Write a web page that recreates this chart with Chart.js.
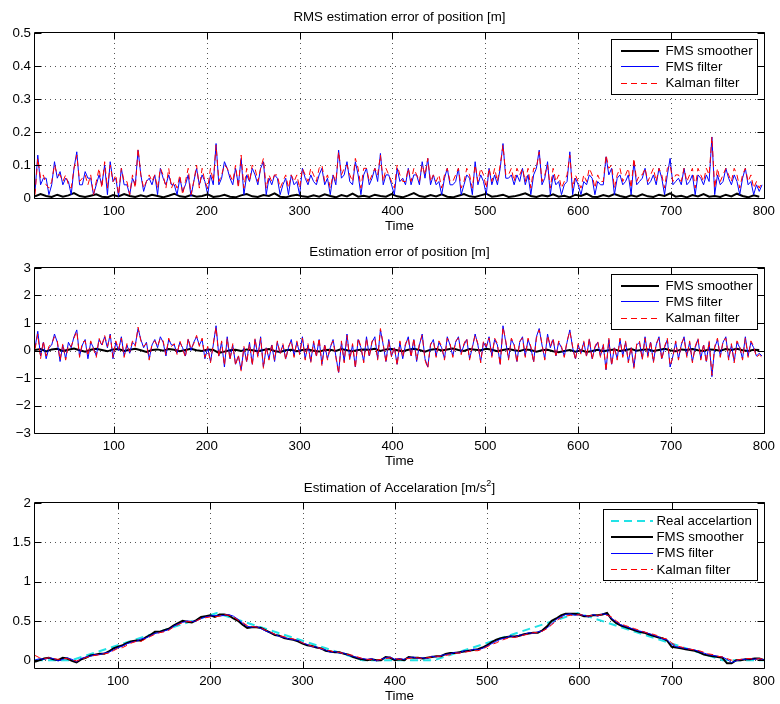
<!DOCTYPE html>
<html>
<head>
<meta charset="utf-8">
<script src="https://cdn.jsdelivr.net/npm/chart.js@4.4.1/dist/chart.umd.min.js"></script>
<style>
  body { margin: 0; background: #fff; width: 780px; height: 704px; overflow: hidden; position: relative; }
  canvas { position: absolute; left: 0; }
</style>
</head>
<body>
<canvas id="cRms" width="780" height="234" style="top:0px"></canvas>
<canvas id="cErr" width="780" height="235" style="top:234px"></canvas>
<canvas id="cAcc" width="780" height="235" style="top:469px"></canvas>
<script>
// sample grids (time of first sample, spacing)
var t0Pos = 15, dtPos = 3;
var t0Smo = 15, dtSmo = 6;
var t0Acc = 10, dtAcc = 5;

var xTicks = [100, 200, 300, 400, 500, 600, 700, 800];
var rmsTicks = [0, 0.1, 0.2, 0.3, 0.4, 0.5];
var errTicks = [-3, -2, -1, 0, 1, 2, 3];
var accTicks = [0, 0.5, 1, 1.5, 2];

// RMS estimation error of position
var rmsSmoother = [
  0.005,0.012,0.006,0.003,0.010,0.004,0.008,0.015,0.006,0.003,
  0.007,0.011,0.004,0.002,0.009,0.005,0.012,0.006,0.003,0.008,
  0.004,0.010,0.006,0.002,0.007,0.013,0.005,0.003,0.009,0.004,
  0.006,0.011,0.003,0.005,0.010,0.004,0.002,0.008,0.012,0.005,
  0.003,0.009,0.006,0.014,0.004,0.002,0.007,0.010,0.005,0.003,
  0.008,0.004,0.011,0.006,0.002,0.009,0.005,0.013,0.004,0.007,
  0.003,0.010,0.006,0.004,0.012,0.005,0.002,0.008,0.015,0.006,
  0.003,0.009,0.005,0.011,0.004,0.002,0.007,0.012,0.005,0.003,
  0.008,0.013,0.004,0.006,0.010,0.003,0.005,0.009,0.014,0.006,
  0.003,0.008,0.005,0.011,0.004,0.007,0.002,0.010,0.006,0.013,
  0.004,0.003,0.009,0.005,0.012,0.006,0.002,0.008,0.004,0.011,
  0.005,0.003,0.010,0.006,0.014,0.004,0.007,0.002,0.009,0.005,
  0.012,0.004,0.006,0.003,0.010,0.005,0.013,0.006,0.002,0.008,
  0.004
];
var rmsFilter = [
  0.02,0.13,0.04,0.06,0.06,0.01,0.04,0.11,0.06,0.08,
  0.04,0.06,0.05,0.01,0.09,0.14,0.04,0.04,0.08,0.06,
  0.06,0.01,0.04,0.07,0.04,0.10,0.01,0.11,0.05,0.06,
  0.005,0.09,0.04,0.04,0.01,0.06,0.04,0.145,0.07,0.02,
  0.05,0.06,0.04,0.07,0.01,0.09,0.06,0.04,0.07,0.04,
  0.04,0.01,0.06,0.02,0.04,0.07,0.005,0.05,0.09,0.04,
  0.07,0.05,0.01,0.07,0.04,0.165,0.04,0.06,0.11,0.09,
  0.06,0.04,0.09,0.04,0.12,0.01,0.07,0.05,0.09,0.07,
  0.04,0.09,0.11,0.01,0.06,0.04,0.07,0.06,0.01,0.04,
  0.06,0.01,0.07,0.04,0.05,0.01,0.09,0.06,0.04,0.07,
  0.05,0.04,0.07,0.09,0.04,0.06,0.01,0.07,0.04,0.145,
  0.06,0.07,0.11,0.05,0.04,0.11,0.07,0.01,0.07,0.09,
  0.04,0.06,0.09,0.05,0.135,0.04,0.07,0.07,0.04,0.01,
  0.09,0.05,0.06,0.04,0.09,0.04,0.07,0.07,0.04,0.11,
  0.06,0.12,0.04,0.07,0.04,0.05,0.01,0.06,0.09,0.04,
  0.04,0.05,0.09,0.01,0.04,0.07,0.06,0.01,0.11,0.04,
  0.07,0.05,0.01,0.09,0.04,0.07,0.04,0.09,0.165,0.06,
  0.06,0.07,0.04,0.07,0.05,0.09,0.04,0.07,0.01,0.07,
  0.09,0.145,0.04,0.06,0.11,0.01,0.07,0.04,0.05,0.01,
  0.04,0.05,0.14,0.01,0.06,0.04,0.01,0.05,0.04,0.07,
  0.06,0.01,0.05,0.04,0.04,0.125,0.07,0.09,0.01,0.06,
  0.07,0.04,0.05,0.07,0.01,0.11,0.04,0.05,0.06,0.09,
  0.04,0.05,0.07,0.04,0.09,0.06,0.01,0.07,0.12,0.04,
  0.05,0.06,0.04,0.09,0.04,0.05,0.07,0.01,0.07,0.06,
  0.04,0.07,0.05,0.185,0.01,0.07,0.04,0.05,0.09,0.06,
  0.04,0.07,0.05,0.01,0.06,0.09,0.04,0.05,0.01,0.04,
  0.02,0.04
];
var rmsKalman = [
  0.01,0.12,0.06,0.07,0.04,0.03,0.05,0.10,0.07,0.07,
  0.05,0.07,0.04,0.03,0.09,0.13,0.05,0.06,0.07,0.04,
  0.07,0.01,0.05,0.09,0.03,0.11,0.03,0.10,0.05,0.07,
  0.01,0.09,0.05,0.05,0.01,0.07,0.03,0.15,0.07,0.03,
  0.05,0.07,0.05,0.07,0.03,0.09,0.07,0.03,0.09,0.03,
  0.05,0.03,0.07,0.01,0.05,0.09,0.01,0.05,0.10,0.03,
  0.09,0.05,0.03,0.09,0.05,0.16,0.05,0.07,0.10,0.09,
  0.07,0.05,0.10,0.03,0.13,0.03,0.09,0.05,0.10,0.09,
  0.05,0.09,0.12,0.03,0.07,0.05,0.07,0.07,0.03,0.05,
  0.07,0.03,0.07,0.05,0.07,0.03,0.09,0.07,0.05,0.09,
  0.07,0.05,0.09,0.10,0.05,0.07,0.03,0.07,0.05,0.14,
  0.07,0.09,0.10,0.07,0.05,0.12,0.09,0.03,0.09,0.09,
  0.05,0.07,0.09,0.07,0.13,0.05,0.09,0.07,0.05,0.03,
  0.10,0.07,0.05,0.05,0.09,0.05,0.09,0.07,0.05,0.10,
  0.07,0.12,0.05,0.07,0.05,0.07,0.03,0.07,0.09,0.05,
  0.05,0.07,0.09,0.03,0.05,0.09,0.07,0.03,0.10,0.05,
  0.09,0.07,0.03,0.09,0.05,0.09,0.05,0.10,0.16,0.07,
  0.07,0.09,0.05,0.09,0.07,0.09,0.05,0.09,0.03,0.09,
  0.09,0.14,0.05,0.07,0.10,0.03,0.09,0.05,0.07,0.03,
  0.05,0.07,0.13,0.03,0.07,0.05,0.03,0.07,0.05,0.09,
  0.07,0.03,0.07,0.05,0.05,0.13,0.09,0.10,0.03,0.07,
  0.09,0.05,0.07,0.09,0.03,0.12,0.05,0.07,0.07,0.09,
  0.05,0.07,0.09,0.05,0.09,0.07,0.03,0.09,0.10,0.05,
  0.07,0.07,0.05,0.09,0.05,0.07,0.09,0.03,0.09,0.07,
  0.05,0.09,0.07,0.185,0.03,0.09,0.05,0.07,0.09,0.07,
  0.05,0.09,0.07,0.03,0.07,0.09,0.05,0.07,0.03,0.05,
  0.03,0.05
];

// Estimation error of position
var errSmoother = [
  0.02,0.05,-0.03,0.04,0.06,-0.02,0.03,0.07,0.01,-0.04,
  0.03,0.06,0.02,-0.03,0.04,0.05,-0.02,0.03,0.06,0.01,
  -0.05,0.02,0.04,-0.01,0.05,0.03,-0.03,0.02,0.06,0.01,
  -0.02,0.04,0.02,-0.09,-0.04,0.01,0.03,-0.02,0.04,0.01,
  -0.03,0.02,0.05,-0.02,-0.05,0.01,0.03,-0.03,0.02,0.04,
  -0.01,-0.04,0.02,0.03,-0.02,0.05,0.01,-0.03,0.02,0.04,
  0.03,0.06,-0.02,0.04,0.05,0.01,-0.03,0.03,0.06,0.02,
  -0.04,0.03,0.05,0.00,0.04,0.07,0.02,-0.02,0.05,0.03,
  0.01,0.06,0.03,-0.03,0.02,0.05,0.01,-0.02,0.04,0.02,
  -0.04,0.01,0.03,-0.03,-0.06,-0.02,0.02,-0.04,0.01,-0.05,
  -0.02,0.03,-0.03,0.01,0.04,-0.02,0.02,0.05,-0.01,0.03,
  0.04,-0.02,0.02,0.06,0.01,-0.03,0.04,0.02,0.05,0.01,
  -0.02,0.04,0.03,-0.01,0.05,0.02,0.06,0.01,-0.02,0.03,
  0.02
];
var errFilter = [
  0.1,0.7,-0.2,0.3,-0.3,0.1,0.2,0.6,0.3,-0.4,
  0.2,-0.3,0.3,0.1,0.5,0.75,-0.2,0.2,0.4,-0.3,
  0.3,0.1,-0.2,0.4,0.2,0.5,0.1,0.6,-0.3,0.3,
  0.0,0.5,-0.2,0.2,-0.1,0.3,0.2,0.8,0.4,0.1,
  0.3,-0.3,0.2,0.4,0.1,0.5,0.3,-0.2,0.4,0.2,
  0.2,-0.1,0.3,0.1,-0.2,0.4,0.0,0.3,0.5,0.2,
  0.4,-0.3,0.1,-0.4,0.2,0.9,-0.2,0.3,-0.6,0.5,
  -0.3,0.2,-0.5,-0.2,-0.7,0.1,-0.4,0.3,-0.5,0.4,
  -0.2,0.5,-0.6,0.1,-0.3,0.2,-0.4,0.3,-0.1,0.2,
  -0.3,0.1,0.4,-0.2,0.3,-0.1,0.5,-0.3,0.2,-0.4,
  0.3,-0.2,0.4,-0.5,0.2,-0.3,0.1,0.4,-0.2,-0.8,
  0.3,-0.4,0.6,-0.3,0.2,-0.6,0.4,0.1,-0.4,0.5,
  -0.2,0.3,0.5,-0.3,0.75,0.2,-0.4,0.4,-0.2,0.1,
  -0.5,0.3,-0.3,0.2,0.5,-0.2,0.4,-0.4,0.2,0.6,
  -0.3,-0.6,0.2,0.4,-0.2,0.3,0.1,-0.3,0.5,0.2,
  -0.2,0.3,0.5,-0.1,0.2,0.4,-0.3,0.1,0.6,0.2,
  -0.4,0.3,0.1,0.5,-0.2,0.4,0.2,-0.5,0.9,0.3,
  -0.3,0.4,0.2,-0.4,0.3,0.5,-0.2,0.4,0.1,-0.4,
  0.5,0.8,0.2,-0.3,0.6,0.1,0.4,-0.2,0.3,0.1,
  -0.2,0.3,0.75,0.1,-0.3,0.2,-0.1,0.3,-0.2,0.4,
  -0.3,0.1,0.3,-0.2,0.2,-0.7,0.4,-0.5,0.1,-0.3,
  0.4,-0.2,0.3,-0.4,0.1,-0.6,0.2,0.3,-0.3,0.5,
  -0.2,0.3,-0.4,0.2,0.5,-0.3,0.1,0.4,-0.6,-0.2,
  0.3,-0.3,0.2,0.5,-0.2,0.3,-0.4,0.1,0.4,-0.3,
  0.2,-0.4,0.3,-0.95,0.1,0.4,-0.2,0.3,0.5,-0.3,
  0.2,-0.4,0.3,0.1,-0.3,0.5,-0.2,0.3,0.1,-0.2,
  -0.1,-0.2
];
var errKalman = [
  0.05,0.6,-0.3,0.35,-0.2,0.15,0.25,0.5,0.35,-0.35,
  0.25,-0.35,0.2,0.15,0.45,0.7,-0.25,0.3,0.35,-0.2,
  0.35,0.05,-0.25,0.45,0.15,0.55,0.15,0.55,-0.25,0.35,
  0.05,0.45,-0.25,0.25,-0.05,0.35,0.15,0.85,0.35,0.15,
  0.25,-0.35,0.25,0.35,0.15,0.45,0.35,-0.15,0.45,0.15,
  0.25,-0.15,0.35,0.05,-0.25,0.45,0.05,0.25,0.55,0.15,
  0.45,-0.25,0.15,-0.45,0.25,0.85,-0.25,0.35,-0.55,0.45,
  -0.35,0.25,-0.55,-0.15,-0.75,0.15,-0.45,0.25,-0.55,0.45,
  -0.25,0.45,-0.65,0.15,-0.35,0.25,-0.35,0.35,-0.15,0.25,
  -0.35,0.15,0.35,-0.25,0.35,-0.15,0.45,-0.35,0.25,-0.45,
  0.35,-0.25,0.45,-0.55,0.25,-0.35,0.15,0.35,-0.25,-0.85,
  0.35,-0.45,0.55,-0.35,0.25,-0.65,0.45,0.15,-0.45,0.45,
  -0.25,0.35,0.45,-0.35,0.8,0.25,-0.45,0.35,-0.25,0.15,
  -0.55,0.35,-0.25,0.25,0.45,-0.25,0.45,-0.35,0.25,0.55,
  -0.35,-0.65,0.25,0.35,-0.25,0.35,0.15,-0.35,0.45,0.25,
  -0.25,0.35,0.45,-0.15,0.25,0.45,-0.35,0.15,0.55,0.25,
  -0.45,0.35,0.15,0.45,-0.25,0.45,0.25,-0.55,0.85,0.35,
  -0.35,0.45,0.25,-0.45,0.35,0.45,-0.25,0.45,0.15,-0.45,
  0.45,0.75,0.25,-0.35,0.55,0.15,0.45,-0.25,0.35,0.15,
  -0.25,0.35,0.7,0.15,-0.35,0.25,-0.15,0.35,-0.25,0.45,
  -0.35,0.15,0.35,-0.25,0.25,-0.75,0.45,-0.55,0.15,-0.35,
  0.45,-0.25,0.35,-0.45,0.15,-0.65,0.25,0.35,-0.35,0.45,
  -0.25,0.35,-0.45,0.25,0.45,-0.35,0.15,0.45,-0.55,-0.25,
  0.35,-0.35,0.25,0.45,-0.25,0.35,-0.45,0.15,0.45,-0.35,
  0.25,-0.45,0.35,-0.9,0.15,0.45,-0.25,0.35,0.45,-0.35,
  0.25,-0.45,0.35,0.15,-0.35,0.45,-0.25,0.35,0.15,-0.25,
  -0.15,-0.25
];

// Estimation of acceleration
var accRealT = [10, 50, 207, 365, 443, 598, 755, 800];
var accReal = [0, 0, 0.6, 0, 0, 0.6, 0, 0];
var accSmoother = [
  -0.02,0.00,0.02,0.03,0.01,0.00,0.03,0.02,-0.01,-0.03,
  0.01,0.03,0.06,0.07,0.08,0.08,0.11,0.15,0.17,0.19,
  0.22,0.24,0.25,0.25,0.29,0.32,0.36,0.36,0.38,0.40,
  0.44,0.47,0.50,0.49,0.48,0.51,0.55,0.56,0.57,0.55,
  0.58,0.58,0.57,0.53,0.50,0.45,0.41,0.42,0.42,0.41,
  0.38,0.35,0.32,0.31,0.28,0.27,0.26,0.24,0.21,0.19,
  0.18,0.16,0.15,0.12,0.11,0.10,0.10,0.08,0.07,0.04,
  0.02,0.01,0.00,0.01,0.00,0.00,0.04,0.03,0.00,0.01,
  0.00,0.04,0.03,0.03,0.02,0.03,0.04,0.05,0.05,0.08,
  0.09,0.09,0.10,0.11,0.12,0.13,0.14,0.16,0.19,0.23,
  0.26,0.28,0.29,0.30,0.30,0.31,0.33,0.34,0.35,0.35,
  0.38,0.43,0.50,0.53,0.57,0.59,0.59,0.59,0.58,0.56,
  0.56,0.57,0.57,0.58,0.60,0.52,0.47,0.44,0.42,0.40,
  0.38,0.36,0.35,0.33,0.31,0.29,0.28,0.25,0.17,0.16,
  0.15,0.14,0.13,0.12,0.10,0.07,0.06,0.05,0.04,0.03,
  -0.04,-0.04,0.00,0.00,0.01,0.01,0.02,0.02,0.00
];
var accFilter = [
  0.00,0.02,0.01,0.03,0.02,-0.01,0.01,0.03,0.01,-0.02,
  0.02,0.04,0.05,0.07,0.07,0.09,0.10,0.13,0.16,0.18,
  0.21,0.23,0.24,0.27,0.28,0.31,0.34,0.35,0.37,0.39,
  0.43,0.46,0.48,0.50,0.49,0.50,0.53,0.55,0.56,0.57,
  0.56,0.57,0.58,0.56,0.52,0.47,0.43,0.42,0.43,0.40,
  0.37,0.35,0.33,0.30,0.29,0.27,0.26,0.25,0.22,0.20,
  0.17,0.17,0.14,0.13,0.10,0.11,0.09,0.09,0.06,0.05,
  0.03,0.02,0.01,0.02,-0.01,0.01,0.03,0.04,0.01,0.02,
  0.01,0.03,0.04,0.02,0.03,0.02,0.05,0.04,0.06,0.07,
  0.08,0.10,0.09,0.12,0.11,0.14,0.13,0.15,0.18,0.21,
  0.24,0.27,0.28,0.31,0.29,0.32,0.32,0.35,0.34,0.36,
  0.37,0.41,0.46,0.52,0.55,0.58,0.59,0.57,0.58,0.57,
  0.55,0.58,0.56,0.59,0.58,0.53,0.49,0.45,0.43,0.41,
  0.39,0.37,0.36,0.34,0.32,0.30,0.27,0.26,0.20,0.17,
  0.16,0.15,0.14,0.13,0.11,0.09,0.07,0.06,0.05,0.04,
  0.01,-0.03,-0.01,0.01,0.01,0.02,0.01,0.02,0.00
];
var accKalman = [
  0.06,0.03,0.02,0.03,0.02,0.01,0.02,0.02,0.00,-0.01,
  0.01,0.03,0.05,0.06,0.07,0.08,0.09,0.12,0.15,0.16,
  0.19,0.22,0.24,0.24,0.27,0.30,0.33,0.35,0.36,0.38,
  0.42,0.45,0.48,0.49,0.49,0.50,0.53,0.54,0.55,0.55,
  0.56,0.58,0.57,0.55,0.51,0.48,0.44,0.43,0.42,0.41,
  0.38,0.36,0.33,0.31,0.30,0.28,0.27,0.25,0.22,0.20,
  0.18,0.16,0.15,0.13,0.12,0.10,0.10,0.08,0.07,0.06,
  0.04,0.02,0.01,0.01,0.00,0.01,0.02,0.03,0.02,0.01,
  0.02,0.02,0.03,0.03,0.02,0.03,0.04,0.05,0.05,0.06,
  0.07,0.09,0.09,0.10,0.11,0.12,0.12,0.14,0.17,0.20,
  0.22,0.25,0.27,0.29,0.29,0.30,0.32,0.33,0.35,0.35,
  0.37,0.40,0.45,0.50,0.54,0.56,0.57,0.57,0.58,0.57,
  0.56,0.57,0.57,0.58,0.57,0.55,0.50,0.46,0.44,0.42,
  0.40,0.38,0.36,0.34,0.33,0.31,0.28,0.27,0.22,0.18,
  0.17,0.15,0.14,0.13,0.12,0.10,0.08,0.07,0.05,0.04,
  0.02,0.00,0.00,0.01,0.02,0.02,0.01,0.02,0.01
];

var fontFam = '"Liberation Sans", Arial, Helvetica, sans-serif';
var fontPx = 13.3;
Chart.defaults.font.family = fontFam;
Chart.defaults.font.size = fontPx;
Chart.defaults.color = '#000';

// line styles, shared by the plotted lines and the legends
var stReal = { label: 'Real accelartion', color: 'rgb(34,226,230)', width: 2, dash: [8, 5] };
var stSmoother = { label: 'FMS smoother', color: 'rgb(0,0,0)', width: 2, dash: [] };
var stFilter = { label: 'FMS filter', color: 'rgb(0,0,255)', width: 1, dash: [] };
var stKalman = { label: 'Kalman filter', color: 'rgb(255,0,0)', width: 1, dash: [6, 4] };

var legendItems = {
  cRms: [stSmoother, stFilter, stKalman],
  cErr: [stSmoother, stFilter, stKalman],
  cAcc: [stReal, stSmoother, stFilter, stKalman]
};

function pts(vals, t0, dt) {
  return vals.map(function (v, i) { return { x: t0 + i * dt, y: v }; });
}
function ptsXY(xs, ys) {
  return ys.map(function (v, i) { return { x: xs[i], y: v }; });
}
function ln(st, data, order) {
  return {
    label: st.label, data: data, borderColor: st.color, borderWidth: st.width,
    borderDash: st.dash.slice(), pointRadius: 0, fill: false, tension: 0, order: order
  };
}

// legend sample drawn as filled segments (solid or dashed)
function legendSample(ctx, st, x0, x1, yc) {
  var top = Math.round(yc - st.width / 2);
  ctx.fillStyle = st.color;
  if (!st.dash.length) {
    ctx.fillRect(x0, top, x1 - x0, st.width);
    return;
  }
  var on = st.dash[0], off = st.dash[1], x = x0;
  while (x < x1) {
    ctx.fillRect(x, top, Math.min(on, x1 - x), st.width);
    x += on + off;
  }
}

// matlab style: dotted grid, black box with inward ticks, title and legend inside the axes
var matlabLook = {
  id: 'matlabLook',
  beforeDatasetsDraw: function (chart, args, o) {
    var a = chart.chartArea, ctx = chart.ctx, sx = chart.scales.x, sy = chart.scales.y;
    ctx.save();
    ctx.strokeStyle = '#555';
    ctx.lineWidth = 1;
    ctx.setLineDash([1, 4]);
    ctx.beginPath();
    xTicks.forEach(function (v) {
      var p = Math.round(sx.getPixelForValue(v)) + 0.5;
      if (p < a.right - 2) { ctx.moveTo(p, a.top); ctx.lineTo(p, a.bottom); }
    });
    o.yTicks.forEach(function (v) {
      var p = Math.round(sy.getPixelForValue(v)) + 0.5;
      if (p > a.top + 2 && p < a.bottom - 2) { ctx.moveTo(a.left, p); ctx.lineTo(a.right, p); }
    });
    ctx.stroke();
    ctx.restore();
  },
  afterDatasetsDraw: function (chart, args, o) {
    var a = chart.chartArea, ctx = chart.ctx, sx = chart.scales.x, sy = chart.scales.y;
    var L = Math.round(a.left) - 0.5, R = Math.round(a.right) + 0.5;
    var T = Math.round(a.top) - 0.5, B = Math.round(a.bottom) + 0.5;
    ctx.save();
    ctx.strokeStyle = '#000';
    ctx.lineWidth = 1;
    ctx.setLineDash([]);
    ctx.beginPath();
    ctx.rect(L, T, R - L, B - T);
    xTicks.forEach(function (v) {
      var p = Math.round(sx.getPixelForValue(v)) + 0.5;
      ctx.moveTo(p, B); ctx.lineTo(p, B - 7);
      ctx.moveTo(p, T); ctx.lineTo(p, T + 7);
    });
    o.yTicks.forEach(function (v) {
      var p = Math.round(sy.getPixelForValue(v)) + 0.5;
      ctx.moveTo(L, p); ctx.lineTo(L + 7, p);
      ctx.moveTo(R, p); ctx.lineTo(R - 7, p);
    });
    ctx.stroke();

    // legend box
    var g = o.legend, items = legendItems[chart.canvas.id];
    var bw = g.w, bh = Math.round(16.3 * items.length + 6);
    var bx = Math.round(a.right - 7 - bw) + 0.5, by = Math.round(a.top + 6) + 0.5;
    ctx.fillStyle = '#fff';
    ctx.fillRect(bx, by, bw, bh);
    ctx.strokeStyle = '#000';
    ctx.strokeRect(bx, by, bw, bh);
    ctx.textBaseline = 'middle';
    ctx.textAlign = 'left';
    ctx.font = fontPx + 'px ' + fontFam;
    items.forEach(function (st, i) {
      var y = by + 11 + i * 16.3;
      legendSample(ctx, st, Math.round(bx + g.l0), Math.round(bx + g.l1), y);
      ctx.fillStyle = '#000';
      ctx.fillText(st.label, bx + g.tx, y + 0.5);
    });
    ctx.restore();
  },
  afterDraw: function (chart, args, o) {
    var a = chart.chartArea, ctx = chart.ctx;
    ctx.save();
    var cx = (a.left + a.right) / 2;
    ctx.fillStyle = '#000';
    ctx.textBaseline = 'middle';
    ctx.font = fontPx + 'px ' + fontFam;
    if (o.sup) {
      var w1 = ctx.measureText(o.title).width, w3 = ctx.measureText(o.titleEnd).width;
      ctx.font = '9px ' + fontFam;
      var w2 = ctx.measureText(o.sup).width;
      var x = cx - (w1 + w2 + w3) / 2;
      ctx.textAlign = 'left';
      ctx.font = fontPx + 'px ' + fontFam;
      ctx.fillText(o.title, x, o.titleY);
      ctx.font = '9px ' + fontFam;
      ctx.fillText(o.sup, x + w1, o.titleY - 5);
      ctx.font = fontPx + 'px ' + fontFam;
      ctx.fillText(o.titleEnd, x + w1 + w2, o.titleY);
    } else {
      ctx.textAlign = 'center';
      ctx.fillText(o.title, cx, o.titleY);
    }
    ctx.restore();
  }
};

function axesOpts(xMin, yMin, yMax, yTickList) {
  return {
    x: {
      type: 'linear', min: xMin, max: 800,
      afterBuildTicks: function (s) { s.ticks = xTicks.map(function (v) { return { value: v }; }); },
      afterFit: function (s) { s.height = 36; },
      grid: { display: false, drawTicks: false },
      border: { display: false },
      ticks: { padding: 5, maxRotation: 0, color: '#000' },
      title: { display: true, text: 'Time', color: '#000', padding: { top: 0, bottom: 0 } }
    },
    y: {
      type: 'linear', min: yMin, max: yMax,
      afterBuildTicks: function (s) { s.ticks = yTickList.map(function (v) { return { value: v }; }); },
      afterFit: function (s) { s.width = 35; },
      grid: { display: false, drawTicks: false },
      border: { display: false },
      ticks: {
        padding: 4, color: '#000',
        callback: function (v) { return String(v).replace('-', '\u2212'); }
      }
    }
  };
}

function makeChart(id, datasets, scales, padTop, look) {
  return new Chart(document.getElementById(id), {
    type: 'line',
    data: { datasets: datasets },
    options: {
      responsive: false,
      animation: false,
      devicePixelRatio: 1,
      layout: { padding: { top: padTop, right: 13, left: 0, bottom: 0 } },
      scales: scales,
      plugins: { legend: { display: false }, tooltip: { enabled: false }, matlabLook: look }
    },
    plugins: [matlabLook]
  });
}

makeChart('cRms', [
  ln(stSmoother, pts(rmsSmoother, t0Smo, dtSmo), 3),
  ln(stFilter, pts(rmsFilter, t0Pos, dtPos), 2),
  ln(stKalman, pts(rmsKalman, t0Pos, dtPos), 1)
], axesOpts(15, 0, 0.5, rmsTicks), 33, {
  yTicks: rmsTicks, title: 'RMS estimation error of position [m]', titleY: 17.3,
  legend: { w: 146, l0: 9, l1: 47, tx: 54 }
});

makeChart('cErr', [
  ln(stSmoother, pts(errSmoother, t0Smo, dtSmo), 3),
  ln(stFilter, pts(errFilter, t0Pos, dtPos), 2),
  ln(stKalman, pts(errKalman, t0Pos, dtPos), 1)
], axesOpts(15, -3, 3, errTicks), 34, {
  yTicks: errTicks, title: 'Estimation error of position [m]', titleY: 18,
  legend: { w: 146, l0: 9, l1: 47, tx: 54 }
});

makeChart('cAcc', [
  ln(stReal, ptsXY(accRealT, accReal), 4),
  ln(stSmoother, pts(accSmoother, t0Acc, dtAcc), 3),
  ln(stFilter, pts(accFilter, t0Acc, dtAcc), 2),
  ln(stKalman, pts(accKalman, t0Acc, dtAcc), 1)
], axesOpts(10, -0.1, 2, accTicks), 34, {
  yTicks: accTicks, title: 'Estimation of Accelaration [m/s', sup: '2', titleEnd: ']', titleY: 19.3,
  legend: { w: 154, l0: 7, l1: 49, tx: 53 }
});
</script>
</body>
</html>
